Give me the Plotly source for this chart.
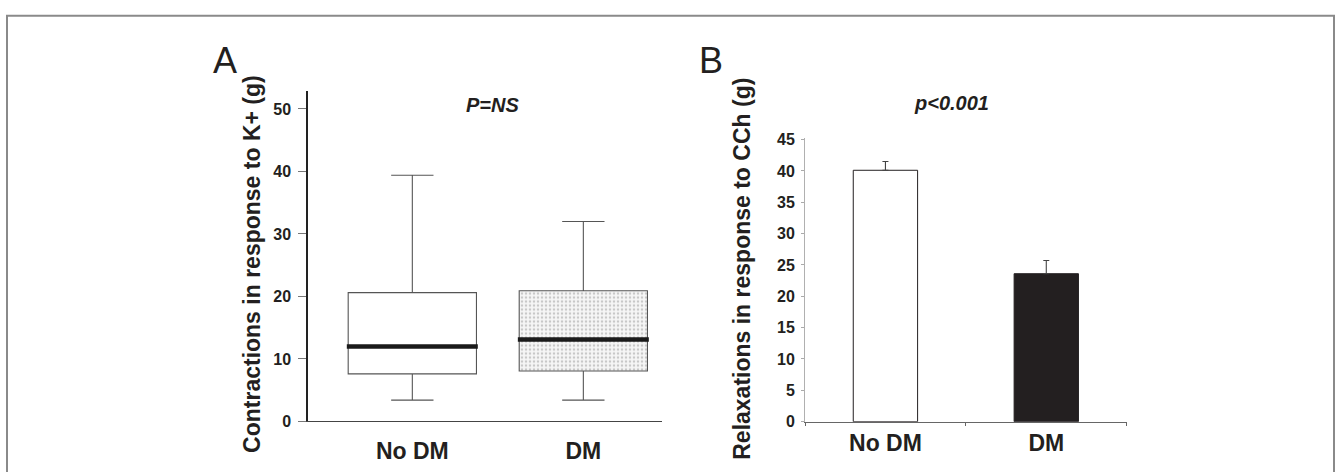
import plotly.graph_objects as go

# ---- data ----
categories = ["No DM", "DM"]
# Panel A: box plot statistics (contractions, g)
box_lower = [3.4, 3.4]
box_q1 = [7.6, 8.05]
box_median = [12.0, 13.1]
box_q3 = [20.6, 20.9]
box_upper = [39.4, 32.0]
# Panel B: mean relaxations (g) and SEM
bar_means = [40.1, 23.6]
bar_err = [1.4, 2.1]
a_ticks = [0, 10, 20, 30, 40, 50]
b_ticks = [0, 5, 10, 15, 20, 25, 30, 35, 40, 45]

W, H = 1340, 472
FONT = "Arial, Liberation Sans, sans-serif"
TXT = "#231f20"

def px_x(p):
    return p / W

def px_y(p):
    return 1 - p / H

fig = go.Figure()

# --- Panel A ---
box_width = 0.75
# stipple fill behind DM box
fig.add_trace(go.Bar(
    x=[1], y=[box_q3[1] - box_q1[1]], base=[box_q1[1]], width=box_width,
    marker=dict(color="#f6f6f6", line=dict(width=0),
                pattern=dict(shape=".", fgcolor="#9a9a9a", bgcolor="#f6f6f6",
                             size=4, solidity=0.3)),
    xaxis="x", yaxis="y", showlegend=False, hoverinfo="skip"))

fills = ["rgba(255,255,255,0)", "rgba(255,255,255,0)"]
for i in range(len(categories)):
    fig.add_trace(go.Box(
        x=[i], q1=[box_q1[i]], median=[box_median[i]], q3=[box_q3[i]],
        lowerfence=[box_lower[i]], upperfence=[box_upper[i]],
        width=box_width, whiskerwidth=0.33,
        fillcolor=fills[i], line=dict(color="#555555", width=1.1),
        boxpoints=False, xaxis="x", yaxis="y", showlegend=False,
        name=categories[i]))

# thick median lines
mx, my = [], []
hw = 0.383
for i, m in enumerate(box_median):
    mx += [i - hw, i + hw, None]
    my += [m, m, None]
fig.add_trace(go.Scatter(x=mx, y=my, mode="lines",
                         line=dict(color="#1a1a1a", width=4.5),
                         xaxis="x", yaxis="y", showlegend=False, hoverinfo="skip"))

# --- Panel B ---
fig.add_trace(go.Bar(
    x=[0, 1], y=bar_means, width=0.4,
    marker=dict(color=["#ffffff", "#231f20"], line=dict(color="#231f20", width=1)),
    error_y=dict(type="data", array=bar_err, arrayminus=[0, 0], symmetric=False,
                 color="#444444", thickness=1.1, width=3),
    xaxis="x2", yaxis="y2", showlegend=False))

tickfont = dict(family=FONT, size=16, color=TXT, weight="bold")
catfont = dict(family=FONT, size=23, color=TXT, weight="bold")

fig.update_layout(
    width=W, height=H,
    margin=dict(l=0, r=0, t=0, b=0),
    paper_bgcolor="white", plot_bgcolor="white",
    barmode="overlay", boxmode="overlay",
    xaxis=dict(domain=[px_x(308), px_x(661.5)], range=[-0.61, 1.457],
               tickvals=[0, 1], ticktext=categories, ticks="", tickfont=catfont,
               ticklabelstandoff=9,
               showline=True, linecolor="#444444", linewidth=1.2,
               showgrid=False, zeroline=False, anchor="y"),
    yaxis=dict(domain=[px_y(429), px_y(88.3)], range=[0, 52.8],
               tickvals=a_ticks, ticks="outside", ticklen=8, tickcolor="#777777",
               tickwidth=1, tickfont=tickfont, ticklabelstandoff=4,
               showline=True, linecolor="#222222", linewidth=1.5,
               showgrid=False, zeroline=False, anchor="x"),
    xaxis2=dict(domain=[px_x(805), px_x(1126.7)], range=[-0.5, 1.5],
                tickvals=[0, 1], ticktext=categories, ticks="", tickfont=catfont,
                ticklabelstandoff=1,
                minor=dict(tickvals=[-0.5, 0.5, 1.5], ticks="outside", ticklen=3,
                           tickcolor="#666666", tickwidth=1),
                showline=True, linecolor="#666666", linewidth=1,
                showgrid=False, zeroline=False, anchor="y2"),
    yaxis2=dict(domain=[px_y(429.3), px_y(136)], range=[0, 45.3],
                tickvals=b_ticks, ticks="outside", ticklen=3, tickcolor="#aaaaaa",
                tickwidth=1, tickfont=tickfont, ticklabelstandoff=3,
                showline=True, linecolor="#b0b0b0", linewidth=1,
                showgrid=False, zeroline=False, anchor="x2"),
    shapes=[dict(type="rect", xref="paper", yref="paper",
                 x0=px_x(7), x1=px_x(1334), y0=-0.2, y1=px_y(10),
                 line=dict(color="#8a8a8a", width=2), fillcolor="rgba(0,0,0,0)")],
    annotations=[
        dict(text="A", x=px_x(224.7), y=px_y(56.5), xref="paper", yref="paper",
             showarrow=False, xanchor="center", yanchor="middle",
             font=dict(family=FONT, size=36, color=TXT)),
        dict(text="B", x=px_x(710.5), y=px_y(56), xref="paper", yref="paper",
             showarrow=False, xanchor="center", yanchor="middle",
             font=dict(family=FONT, size=36, color=TXT)),
        dict(text="<b><i>P=NS</i></b>", x=px_x(492), y=px_y(102), xref="paper", yref="paper",
             showarrow=False, xanchor="center", yanchor="middle",
             font=dict(family=FONT, size=20, color=TXT)),
        dict(text="<b><i>p<0.001</i></b>", x=px_x(951), y=px_y(100), xref="paper", yref="paper",
             showarrow=False, xanchor="center", yanchor="middle",
             font=dict(family=FONT, size=20, color=TXT)),
        dict(text="<b>Contractions in response to K+ (g)</b>", x=px_x(252.7), y=px_y(266.7),
             xref="paper", yref="paper", textangle=-90,
             showarrow=False, xanchor="center", yanchor="middle",
             font=dict(family=FONT, size=23, color=TXT)),
        dict(text="<b>Relaxations in response to CCh (g)</b>", x=px_x(741.7), y=px_y(271.7),
             xref="paper", yref="paper", textangle=-90,
             showarrow=False, xanchor="center", yanchor="middle",
             font=dict(family=FONT, size=23, color=TXT)),
    ],
)

fig.write_html(
    "out.html",
    config={"displayModeBar": False},
    post_script="document.body.style.margin='0';document.body.style.overflow='hidden';",
)
